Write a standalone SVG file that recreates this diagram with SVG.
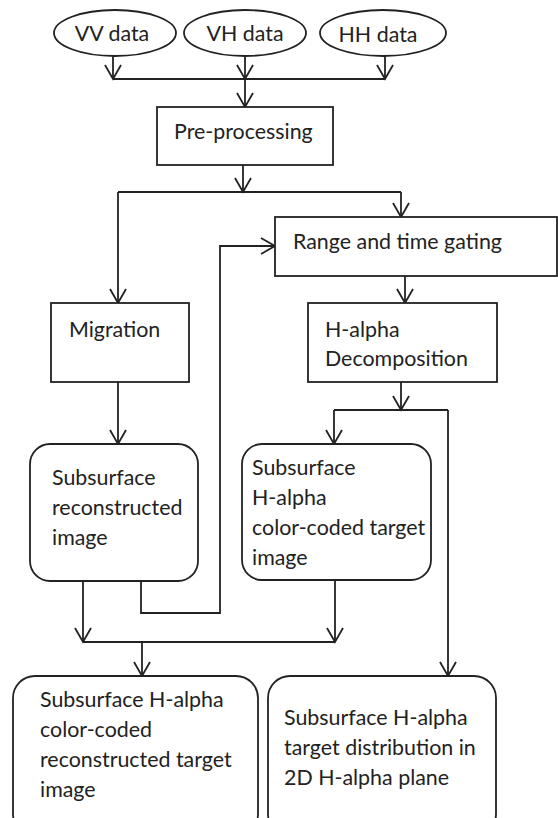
<svg xmlns="http://www.w3.org/2000/svg" width="558" height="818" viewBox="0 0 558 818">
<style>
.n{fill:#fff;stroke:#222;stroke-width:1.8}
.t{font-family:Lato,"Liberation Sans",sans-serif;font-size:21.4px;fill:#222}
.c{fill:none;stroke:#222;stroke-width:1.8}
</style>
<defs>
<marker id="a" markerUnits="userSpaceOnUse" viewBox="0 0 16 16" refX="15" refY="8" markerWidth="16" markerHeight="16" orient="auto" overflow="visible">
<path d="M1,0 L15,8 L1,16" fill="none" stroke="#222" stroke-width="1.8"/>
</marker>
</defs>
<rect width="558" height="818" fill="#fff"/>
<g id="connectors">
<path class="c" d="M113,55 V79" marker-end="url(#a)"/>
<path class="c" d="M245,55 V79" marker-end="url(#a)"/>
<path class="c" d="M385,55 V79" marker-end="url(#a)"/>
<path class="c" d="M113,79 H385"/>
<path class="c" d="M245,79 V107" marker-end="url(#a)"/>
<path class="c" d="M243,165 V192" marker-end="url(#a)"/>
<path class="c" d="M118,192 H401"/>
<path class="c" d="M401,192 V217" marker-end="url(#a)"/>
<path class="c" d="M118,192 V303" marker-end="url(#a)"/>
<path class="c" d="M405,276 V303" marker-end="url(#a)"/>
<path class="c" d="M118,382 V444" marker-end="url(#a)"/>
<path class="c" d="M401,382 V410" marker-end="url(#a)"/>
<path class="c" d="M334,410 H448"/>
<path class="c" d="M334,410 V444" marker-end="url(#a)"/>
<path class="c" d="M448,410 V676" marker-end="url(#a)"/>
<path class="c" d="M141,581 V613 H220 V246 H275" marker-end="url(#a)"/>
<path class="c" d="M83,581 V642" marker-end="url(#a)"/>
<path class="c" d="M335,580 V642" marker-end="url(#a)"/>
<path class="c" d="M83,642 H335"/>
<path class="c" d="M142,642 V676" marker-end="url(#a)"/>
</g>
<g id="vv"><ellipse class="n" cx="115" cy="33" rx="61" ry="23"/><text class="t" x="112" y="41" text-anchor="middle">VV data</text></g>
<g id="vh"><ellipse class="n" cx="245" cy="33" rx="61" ry="23"/><text class="t" x="245" y="41" text-anchor="middle">VH data</text></g>
<g id="hh"><ellipse class="n" cx="383" cy="33" rx="63" ry="23"/><text class="t" x="378" y="42" text-anchor="middle">HH data</text></g>
<g id="pre"><rect class="n" x="157" y="107" width="176" height="58"/><text class="t" x="174" y="139">Pre-processing</text></g>
<g id="range"><rect class="n" x="275" y="217" width="282" height="59"/><text class="t" x="293" y="249">Range and time gating</text></g>
<g id="migration"><rect class="n" x="51" y="303" width="138" height="79"/><text class="t" x="69" y="337">Migration</text></g>
<g id="decomp"><rect class="n" x="308" y="303" width="189" height="79"/><text class="t" x="325" y="337">H-alpha</text><text class="t" x="325" y="366">Decomposition</text></g>
<g id="recimg"><rect class="n" x="30" y="444" width="168" height="137" rx="20"/><text class="t" x="52" y="485">Subsurface</text><text class="t" x="52" y="515">reconstructed</text><text class="t" x="52" y="545">image</text></g>
<g id="ccimg"><rect class="n" x="242" y="444" width="189" height="136" rx="20"/><text class="t" x="252" y="475">Subsurface</text><text class="t" x="252" y="505">H-alpha</text><text class="t" x="252" y="535">color-coded target</text><text class="t" x="252" y="565">image</text></g>
<g id="ccrec"><rect class="n" x="13" y="676" width="245" height="160" rx="22"/><text class="t" x="40" y="707">Subsurface H-alpha</text><text class="t" x="40" y="737">color-coded</text><text class="t" x="40" y="767">reconstructed target</text><text class="t" x="40" y="797">image</text></g>
<g id="dist"><rect class="n" x="268" y="676" width="228" height="160" rx="22"/><text class="t" x="284" y="725">Subsurface H-alpha</text><text class="t" x="284" y="755">target distribution in</text><text class="t" x="284" y="785">2D H-alpha plane</text></g>
</svg>
